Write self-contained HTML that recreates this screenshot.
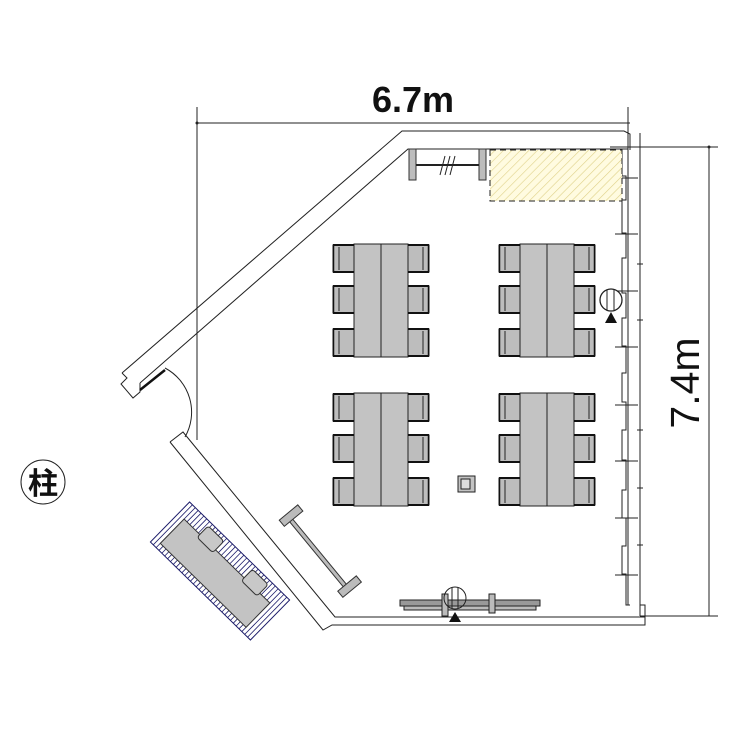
<!DOCTYPE html>
<html><head><meta charset="utf-8"><style>
html,body{margin:0;padding:0;background:#fff}
svg{display:block}
</style></head><body>
<svg width="750" height="750" viewBox="0 0 750 750" xmlns="http://www.w3.org/2000/svg">
<defs>
<pattern id="yh" patternUnits="userSpaceOnUse" width="6" height="6" patternTransform="rotate(45)">
<rect width="6" height="6" fill="#fffbe0"/><line x1="0" y1="0" x2="0" y2="6" stroke="#e0d28a" stroke-width="1.2"/>
</pattern>
<g id="chairL"><rect x="0" y="0" width="21" height="27" fill="#bdbdbd" stroke="#222" stroke-width="1"/><line x1="6" y1="2" x2="6" y2="25" stroke="#222"/><line x1="0" y1="0" x2="21" y2="0" stroke="#111" stroke-width="2"/><line x1="0" y1="27" x2="21" y2="27" stroke="#111" stroke-width="2"/><line x1="0.5" y1="0" x2="0.5" y2="27" stroke="#111" stroke-width="1.5"/></g>
<g id="chairR"><rect x="0" y="0" width="21" height="27" fill="#bdbdbd" stroke="#222" stroke-width="1"/><line x1="15" y1="2" x2="15" y2="25" stroke="#222"/><line x1="0" y1="0" x2="21" y2="0" stroke="#111" stroke-width="2"/><line x1="0" y1="27" x2="21" y2="27" stroke="#111" stroke-width="2"/><line x1="20.5" y1="0" x2="20.5" y2="27" stroke="#111" stroke-width="1.5"/></g>
<g id="grp">
<rect x="21" y="0" width="54" height="113" fill="#c3c3c3" stroke="#222"/><line x1="48" y1="0" x2="48" y2="113" stroke="#222"/>
<use href="#chairL" x="0" y="1"/><use href="#chairL" x="0" y="42"/><use href="#chairL" x="0" y="85"/>
<use href="#chairR" x="75" y="1"/><use href="#chairR" x="75" y="42"/><use href="#chairR" x="75" y="85"/>
</g>
</defs>

<g stroke="#222" stroke-width="1" fill="none">
<line x1="197" y1="107" x2="197" y2="440"/>
<line x1="197" y1="123" x2="630" y2="123"/>
<line x1="628" y1="107" x2="628" y2="150"/>
<line x1="610" y1="147" x2="718" y2="147"/>
<line x1="709" y1="147" x2="709" y2="616"/>
<line x1="640" y1="616" x2="718" y2="616"/>
</g>
<circle cx="197" cy="123" r="1.5" fill="#222"/><circle cx="709" cy="147" r="1.5" fill="#222"/>
<text x="413" y="112" font-family="Liberation Sans, sans-serif" font-size="36" font-weight="bold" text-anchor="middle" fill="#111">6.7m</text>
<text transform="translate(699,383) rotate(-90)" font-family="Liberation Sans, sans-serif" font-size="41" text-anchor="middle" fill="#111">7.4m</text>

<g stroke="#222" stroke-width="1" fill="none">
<polyline points="122,373 402,131 624,131 630,134 630,150"/>
<polyline points="140,383 408,149 628,149"/>
<polyline points="122,373 127,378 121,384 133,398 140,392 140,383"/>
<line x1="628" y1="150" x2="628" y2="605"/>
<line x1="640" y1="133" x2="640" y2="616"/>
<polyline points="170,442 183,432 335,617 645,617"/>
<polyline points="170,442 323,630 332,625 645,625 645,605 640,605"/>
<polyline points="622,150 622,176 626,176 626,200 622,200 622,233 626,233 626,258 622,258 622,293 626,293 626,318 622,318 622,346 626,346 626,373 622,373 622,402 626,402 626,430 622,430 622,460 626,460 626,490 622,490 622,518 626,518 626,546 622,546 622,574 626,574 626,605 630,605"/>
<line x1="615" y1="178" x2="638" y2="178"/><line x1="615" y1="234" x2="638" y2="234"/>
<line x1="615" y1="291" x2="638" y2="291"/><line x1="615" y1="347" x2="638" y2="347"/>
<line x1="615" y1="405" x2="638" y2="405"/><line x1="615" y1="461" x2="638" y2="461"/>
<line x1="615" y1="518" x2="638" y2="518"/><line x1="615" y1="575" x2="638" y2="575"/>
<line x1="637" y1="264" x2="643" y2="264"/><line x1="637" y1="320" x2="643" y2="320"/>
<line x1="637" y1="430" x2="643" y2="430"/><line x1="637" y1="488" x2="643" y2="488"/><line x1="637" y1="545" x2="643" y2="545"/>
<path d="M165,368 A50,50 0 0 1 185,437"/>
</g>
<line x1="140" y1="390" x2="165" y2="370" stroke="#111" stroke-width="2.5"/>

<rect x="490" y="150" width="132" height="51" fill="url(#yh)" stroke="#222" stroke-dasharray="6,4"/>
<rect x="409" y="149" width="7" height="31" fill="#bdbdbd" stroke="#333"/>
<rect x="479" y="149" width="7" height="31" fill="#bdbdbd" stroke="#333"/>
<line x1="416" y1="165" x2="479" y2="165" stroke="#222" stroke-width="2"/>
<g stroke="#222"><line x1="440" y1="175" x2="445" y2="156"/><line x1="445" y1="175" x2="450" y2="156"/><line x1="450" y1="175" x2="455" y2="156"/></g>

<use href="#grp" x="333" y="244"/>
<use href="#grp" x="499" y="244"/>
<use href="#grp" x="333" y="393"/>
<use href="#grp" x="499" y="393"/>

<rect x="458" y="476" width="17" height="16" fill="#c3c3c3" stroke="#222"/>
<rect x="461" y="479" width="9" height="10" fill="#ddd" stroke="#222"/>

<circle cx="611" cy="300" r="11" fill="#fff" stroke="#222" stroke-width="1.3"/>
<line x1="607" y1="290" x2="607" y2="310" stroke="#222"/><line x1="614" y1="290" x2="614" y2="310" stroke="#222"/>
<polygon points="611,312 605,323 617,323" fill="#111"/>

<rect x="400" y="600" width="140" height="6" fill="#999" stroke="#222"/>
<rect x="404" y="606" width="132" height="4" fill="#bbb" stroke="#222"/>
<rect x="442" y="594" width="6" height="22" fill="#bbb" stroke="#222"/>
<rect x="489" y="594" width="6" height="19" fill="#bbb" stroke="#222"/>
<circle cx="455" cy="598" r="11" fill="none" stroke="#222"/>
<line x1="452" y1="587" x2="452" y2="609" stroke="#222"/><line x1="458" y1="587" x2="458" y2="609" stroke="#222"/>
<polygon points="455,612 449,622 461,622" fill="#111"/>

<g transform="translate(318,553) rotate(50.5)">
<rect x="-46" y="-2" width="92" height="4" fill="#bbb" stroke="#333"/>
<rect x="-50" y="-15" width="8" height="24" fill="#bbb" stroke="#333"/>
<rect x="42" y="-15" width="8" height="24" fill="#bbb" stroke="#333"/>
</g>

<g transform="translate(220,571) rotate(44.4)">
<rect x="-70" y="-28" width="140" height="56" fill="#fff" stroke="#1c1c6a"/>
<g stroke="#1c1c6a" stroke-width="0.8">
<line x1="-66" y1="-28" x2="-66" y2="28"/><line x1="-62" y1="-28" x2="-62" y2="28"/><line x1="-58" y1="-28" x2="-58" y2="28"/><line x1="-54" y1="-28" x2="-54" y2="28"/><line x1="-50" y1="-28" x2="-50" y2="28"/><line x1="-46" y1="-28" x2="-46" y2="28"/><line x1="-42" y1="-28" x2="-42" y2="28"/><line x1="-38" y1="-28" x2="-38" y2="28"/><line x1="-34" y1="-28" x2="-34" y2="28"/><line x1="-30" y1="-28" x2="-30" y2="28"/><line x1="-26" y1="-28" x2="-26" y2="28"/><line x1="-22" y1="-28" x2="-22" y2="28"/><line x1="-18" y1="-28" x2="-18" y2="28"/><line x1="-14" y1="-28" x2="-14" y2="28"/><line x1="-10" y1="-28" x2="-10" y2="28"/><line x1="-6" y1="-28" x2="-6" y2="28"/><line x1="-2" y1="-28" x2="-2" y2="28"/><line x1="2" y1="-28" x2="2" y2="28"/><line x1="6" y1="-28" x2="6" y2="28"/><line x1="10" y1="-28" x2="10" y2="28"/><line x1="14" y1="-28" x2="14" y2="28"/><line x1="18" y1="-28" x2="18" y2="28"/><line x1="22" y1="-28" x2="22" y2="28"/><line x1="26" y1="-28" x2="26" y2="28"/><line x1="30" y1="-28" x2="30" y2="28"/><line x1="34" y1="-28" x2="34" y2="28"/><line x1="38" y1="-28" x2="38" y2="28"/><line x1="42" y1="-28" x2="42" y2="28"/><line x1="46" y1="-28" x2="46" y2="28"/><line x1="50" y1="-28" x2="50" y2="28"/><line x1="54" y1="-28" x2="54" y2="28"/><line x1="58" y1="-28" x2="58" y2="28"/><line x1="62" y1="-28" x2="62" y2="28"/><line x1="66" y1="-28" x2="66" y2="28"/>
</g>
<rect x="-62" y="-12" width="120" height="34" fill="#c3c3c3" stroke="#333"/>
<rect x="-40" y="-24" width="22" height="16" rx="3" fill="#c8c8c8" stroke="#333"/>
<rect x="22" y="-24" width="22" height="16" rx="3" fill="#c8c8c8" stroke="#333"/>
</g>

<circle cx="43" cy="482" r="22" fill="#fff" stroke="#222"/>
<text x="43" y="494" font-family="Liberation Sans, 'Noto Sans CJK JP', sans-serif" font-size="30" font-weight="bold" text-anchor="middle" fill="#111">柱</text>
</svg>
</body></html>
